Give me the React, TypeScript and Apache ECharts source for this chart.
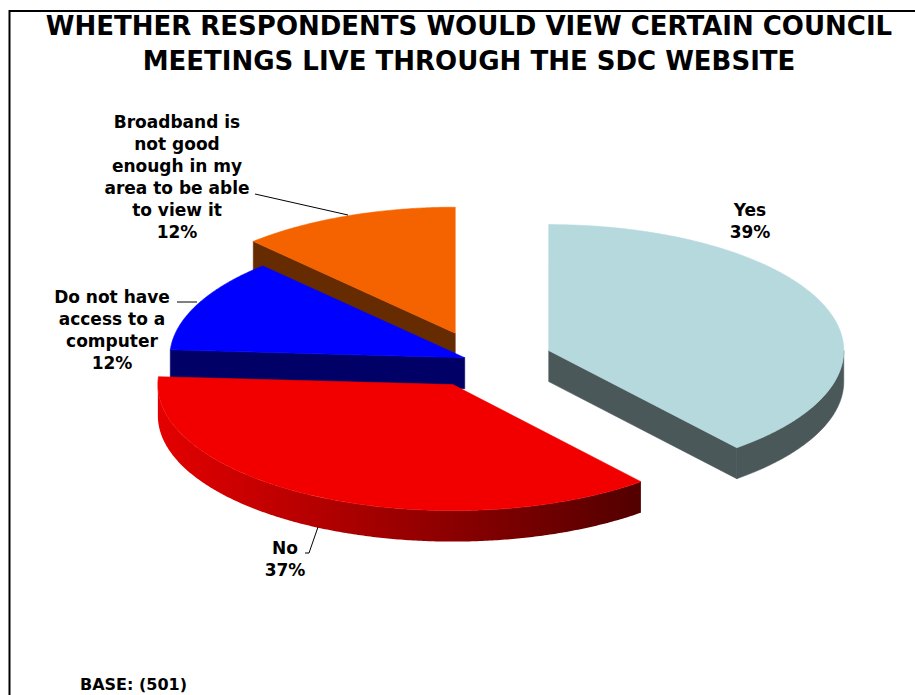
import React, { useEffect, useRef } from "react";
import * as echarts from "echarts";

// ---- data ----
const categories = [
  "Yes",
  "No",
  "Do not have\naccess to a\ncomputer",
  "Broadband is\nnot good\nenough in my\narea to be able\nto view it",
];
const percentages = [39, 37, 12, 12];
const titleLines = [
  "WHETHER RESPONDENTS WOULD VIEW CERTAIN COUNCIL",
  "MEETINGS LIVE THROUGH THE SDC WEBSITE",
];
const baseText = "BASE: (501)";

// ---- styles ----
const topColors = ["#B5D9DD", "#F20000", "#0000FF", "#F56300"];
const sideColors = ["#4B5859", "#B00000", "#000066", "#662B00"];
const explodeDist = [72, 62, 18, 70];
const PIE = { cx: 481, cy: 361, rx: 295, ry: 126, depth: 31 };
const FONT = "'DejaVu Sans', Verdana, sans-serif";
const labelLayout = [
  { x: 750, y: 221, leader: null as number[][] | null },
  { x: 285, y: 559, leader: [[305, 553], [309, 553], [318, 527]] },
  { x: 112, y: 330, leader: [[177, 302], [197, 302]] },
  { x: 177, y: 177, leader: [[255, 194], [348, 215]] },
];

const total = percentages.reduce((a, b) => a + b, 0);
const rad = (d: number) => (d * Math.PI) / 180;

function arcPoints(cx: number, cy: number, a0: number, a1: number, dy: number) {
  const pts: number[][] = [];
  const n = Math.max(2, Math.ceil(Math.abs(a1 - a0) / 0.5));
  for (let k = 0; k <= n; k++) {
    const a = rad(a0 + ((a1 - a0) * k) / n);
    pts.push([cx + PIE.rx * Math.cos(a), cy + PIE.ry * Math.sin(a) + dy]);
  }
  return pts;
}

export default function App() {
  const ref = useRef<HTMLDivElement>(null);
  useEffect(() => {
    if (!ref.current) return;
    const chart = echarts.init(ref.current, undefined, { renderer: "svg" });

    // drawing rank: back slices first
    const mids = percentages.map((v, i) => {
      const cum = percentages.slice(0, i).reduce((a, b) => a + b, 0);
      const a0 = -90 + (cum / total) * 360;
      return a0 + (v / total) * 180;
    });
    const order = mids
      .map((m, i) => ({ i, s: Math.sin(rad(m)) }))
      .sort((a, b) => a.s - b.s)
      .map((o) => o.i);
    const rank: number[] = [];
    order.forEach((idx, r) => (rank[idx] = r));

    const renderItem = (params: any, api: any) => {
      const i = params.dataIndex;
      const v = api.value(0);
      const cum = percentages.slice(0, i).reduce((a, b) => a + b, 0);
      const a0 = -90 + (cum / total) * 360;
      const a1 = a0 + (v / total) * 360;
      const mid = (a0 + a1) / 2;
      const d = explodeDist[i];
      const cx = PIE.cx + d * Math.cos(rad(mid));
      const cy = PIE.cy + d * (PIE.ry / PIE.rx) * Math.sin(rad(mid));
      const D = PIE.depth;
      const zb = rank[i] * 10;
      const children: any[] = [];
      const side = sideColors[i];
      const sideFill =
        i === 1
          ? new echarts.graphic.LinearGradient(0, 0, 1, 0, [
              { offset: 0, color: "#E40000" },
              { offset: 1, color: "#520000" },
            ])
          : side;

      // outer arc side (front-facing part: 0..180 deg)
      const s0 = Math.max(a0, 0);
      const s1 = Math.min(a1, 180);
      if (s1 > s0) {
        const top = arcPoints(cx, cy, s0, s1, 0);
        const bot = arcPoints(cx, cy, s0, s1, D).reverse();
        children.push({
          type: "polygon",
          z2: zb + 1,
          shape: { points: top.concat(bot) },
          style: i === 1 ? { fill: sideFill } : { fill: side, stroke: side, lineWidth: 0.6 },
        });
      }
      // radius side faces
      const edge = (a: number) => [cx + PIE.rx * Math.cos(rad(a)), cy + PIE.ry * Math.sin(rad(a))];
      if (Math.cos(rad(a0)) < -1e-6) {
        const p = edge(a0);
        children.push({
          type: "polygon",
          z2: zb + 2,
          shape: { points: [[cx, cy], p, [p[0], p[1] + D], [cx, cy + D]] },
          style: { fill: side, stroke: side, lineWidth: 0.6 },
        });
      }
      if (Math.cos(rad(a1)) > 1e-6) {
        const p = edge(a1);
        children.push({
          type: "polygon",
          z2: zb + 2,
          shape: { points: [[cx, cy], p, [p[0], p[1] + D], [cx, cy + D]] },
          style: { fill: side, stroke: side, lineWidth: 0.6 },
        });
      }
      // top face
      children.push({
        type: "polygon",
        z2: zb + 3,
        shape: { points: [[cx, cy]].concat(arcPoints(cx, cy, a0, a1, 0)) },
        style: { fill: topColors[i], stroke: topColors[i], lineWidth: 0.6 },
      });

      // label
      const lay = labelLayout[i];
      children.push({
        type: "text",
        z2: 100,
        style: {
          x: lay.x,
          y: lay.y,
          text: `${categories[i]}\n${v}%`,
          font: `bold 17px ${FONT}`,
          fill: "#000",
          align: "center",
          verticalAlign: "middle",
          lineHeight: 22,
        },
      });
      if (lay.leader) {
        children.push({
          type: "polyline",
          z2: 100,
          shape: { points: lay.leader },
          style: { stroke: "#000", lineWidth: 1, fill: "none" },
        });
      }
      return { type: "group", children };
    };

    chart.setOption({
      animation: false,
      backgroundColor: "#fff",
      graphic: [
        {
          type: "rect",
          shape: { x: 9.5, y: 11, width: 1000, height: 900 },
          style: { fill: "none", stroke: "#000", lineWidth: 2 },
          silent: true,
        },
        {
          type: "text",
          style: {
            x: 469,
            y: 43,
            text: titleLines.join("\n"),
            font: `bold 26px ${FONT}`,
            fill: "#000",
            align: "center",
            verticalAlign: "middle",
            lineHeight: 35,
          },
        },
        {
          type: "text",
          style: {
            x: 80,
            y: 684,
            text: baseText,
            font: `bold 16px ${FONT}`,
            fill: "#000",
            align: "left",
            verticalAlign: "middle",
          },
        },
      ],
      series: [
        {
          type: "custom",
          coordinateSystem: "none",
          renderItem,
          data: percentages.map((v, i) => ({ name: categories[i], value: v })),
        },
      ],
    });
    return () => chart.dispose();
  }, []);
  return (
    <div
      ref={ref}
      style={{ position: "absolute", left: 0, top: 0, width: 915, height: 695 }}
    />
  );
}
